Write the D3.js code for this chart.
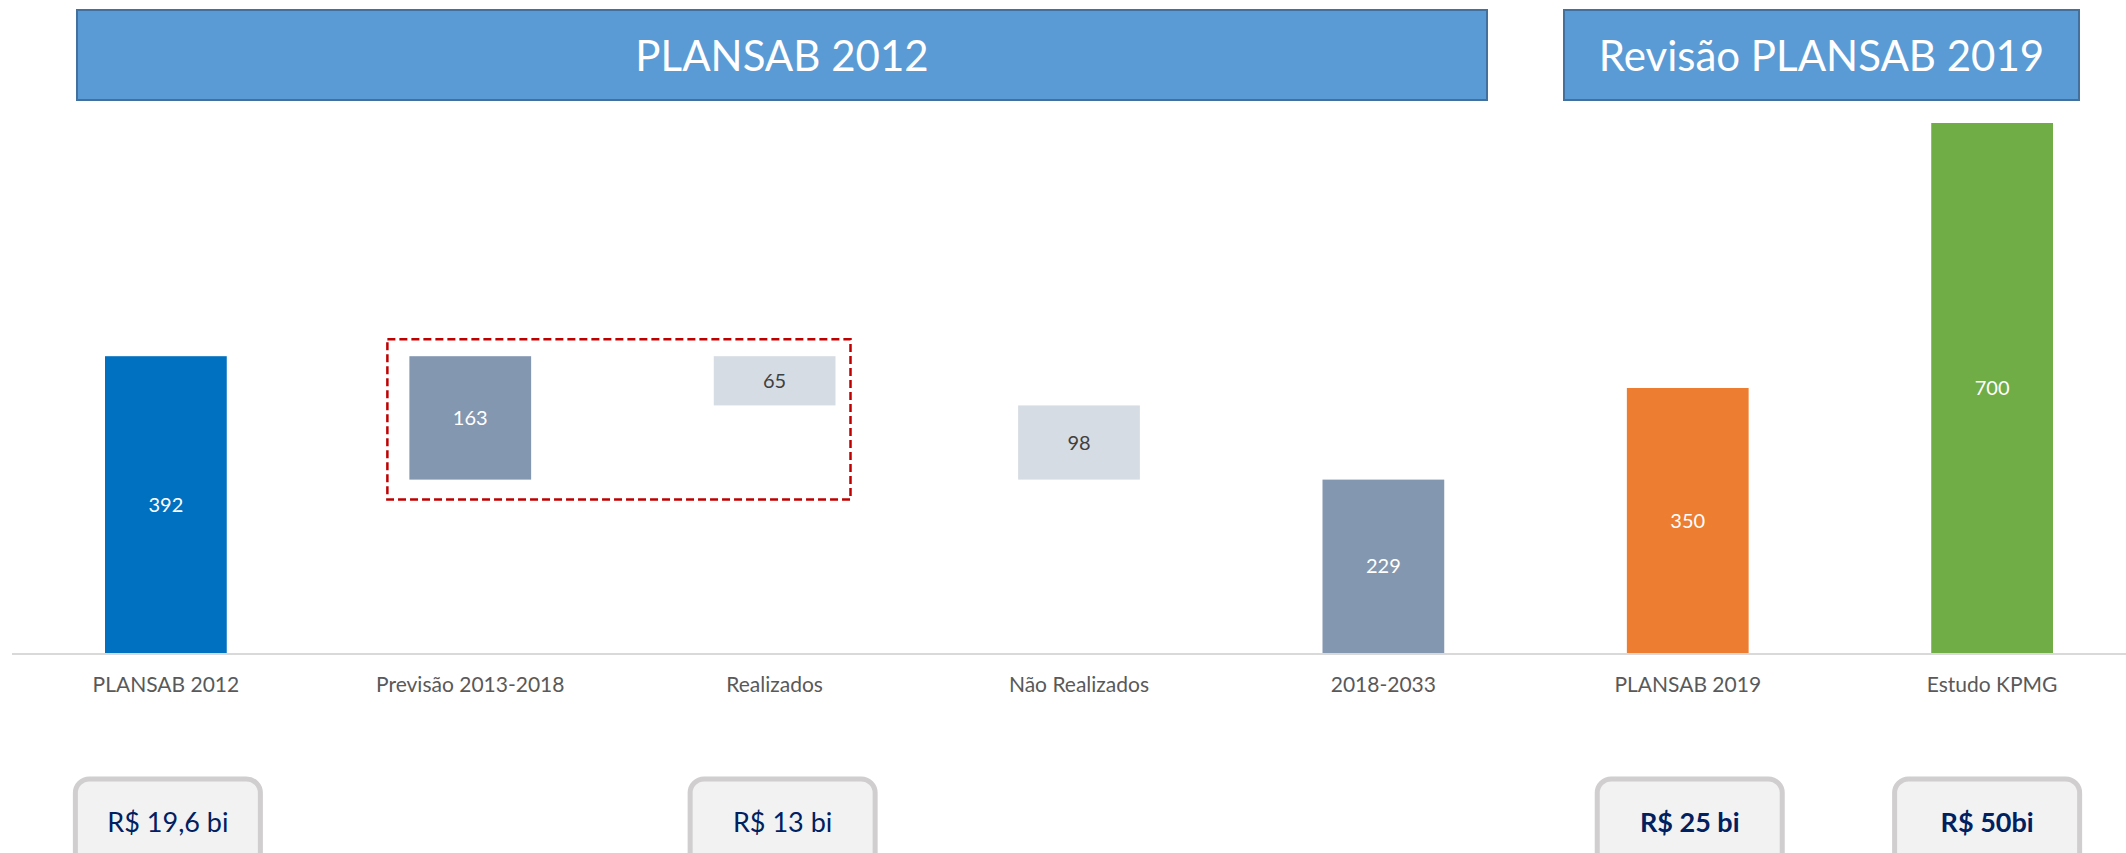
<!DOCTYPE html>
<html>
<head>
<meta charset="utf-8">
<script src="https://cdn.jsdelivr.net/npm/d3@7"></script>
<style>
  html, body { margin: 0; padding: 0; background: #fff; }
  svg { display: block; font-family: Lato, "Open Sans", sans-serif; }
</style>
</head>
<body>
<svg id="chart"></svg>
<script>
const W = 2126;
const H = 853;

// ── Data ──────────────────────────────────────────────────────────────────────

const CATEGORIES = [
  'PLANSAB 2012', 'Previsão 2013-2018', 'Realizados', 'Não Realizados',
  '2018-2033', 'PLANSAB 2019', 'Estudo KPMG',
];
const BASES  = [0, 229, 327, 229, 0, 0, 0];
const VALUES = [392, 163, 65, 98, 229, 350, 700];

const GROUPS = [
  { title: 'PLANSAB 2012' },
  { title: 'Revisão PLANSAB 2019' },
];

const BOX_CATEGORIES = ['PLANSAB 2012', 'Realizados', 'PLANSAB 2019', 'Estudo KPMG'];
const BOX_LABELS     = ['R$ 19,6 bi', 'R$ 13 bi', 'R$ 25 bi', 'R$ 50bi'];

// ── Colors ────────────────────────────────────────────────────────────────────

const BAR_COLORS   = ['#0070c0', '#8497b0', '#d6dce4', '#d6dce4', '#8497b0', '#ed7d31', '#70ad47'];
const LABEL_COLORS = ['#fff', '#fff', '#404040', '#404040', '#fff', '#fff', '#fff'];
const BOX_BOLD     = [false, false, true, true];
const BOX_SHIFT    = [2, 8, 2, -5];   // boxes are not exactly centred under the bars

// ── Scales ────────────────────────────────────────────────────────────────────

const svg = d3.select('#chart').attr('width', W).attr('height', H);

const x = d3.scaleBand()
  .domain(CATEGORIES)
  .range([0, 2158])
  .paddingInner(0.6)
  .paddingOuter(0.345);

const y = d3.scaleLinear().domain([0, 700]).range([653, 123]);

const bars = CATEGORIES.map((c, i) => ({ cat: c, base: BASES[i], value: VALUES[i], i }));

// ── Group banners ─────────────────────────────────────────────────────────────

const banners = [
  { x0: 77,   x1: 1487 },
  { x0: 1564, x1: 2079 },
];

const bannerG = svg.append('g');
banners.forEach((b, i) => {
  bannerG.append('rect')
    .attr('x', b.x0).attr('y', 10)
    .attr('width', b.x1 - b.x0).attr('height', 90)
    .attr('fill', '#5b9bd5')
    .attr('stroke', '#41719c')
    .attr('stroke-width', 2);
  bannerG.append('text')
    .attr('x', (b.x0 + b.x1) / 2).attr('y', 71)
    .attr('text-anchor', 'middle')
    .attr('fill', '#fff')
    .attr('font-size', 42)
    .text(GROUPS[i].title);
});

// ── Axis line ─────────────────────────────────────────────────────────────────

svg.append('line')
  .attr('x1', 12).attr('x2', W)
  .attr('y1', y(0) + 1).attr('y2', y(0) + 1)
  .attr('stroke', '#d9d9d9')
  .attr('stroke-width', 2);

// ── Bars ──────────────────────────────────────────────────────────────────────

svg.append('g').selectAll('rect')
  .data(bars)
  .join('rect')
  .attr('x', d => x(d.cat))
  .attr('width', x.bandwidth())
  .attr('y', d => y(d.base + d.value))
  .attr('height', d => y(d.base) - y(d.base + d.value))
  .attr('fill', d => BAR_COLORS[d.i]);

svg.append('g').selectAll('text')
  .data(bars)
  .join('text')
  .attr('x', d => x(d.cat) + x.bandwidth() / 2)
  .attr('y', d => y(d.base + d.value / 2))
  .attr('dy', '0.35em')
  .attr('text-anchor', 'middle')
  .attr('font-size', 20)
  .attr('fill', d => LABEL_COLORS[d.i])
  .text(d => d.value);

// category labels
svg.append('g').selectAll('text')
  .data(CATEGORIES)
  .join('text')
  .attr('x', d => x(d) + x.bandwidth() / 2)
  .attr('y', 692)
  .attr('text-anchor', 'middle')
  .attr('font-size', 21)
  .attr('fill', '#595959')
  .text(d => d);

// ── Dashed highlight around Previsão / Realizados ─────────────────────────────

const hx0 = x('Previsão 2013-2018') - 22;
const hx1 = x('Realizados') + x.bandwidth() + 15;
const hy0 = y(BASES[1] + VALUES[1]) - 17;
const hy1 = y(BASES[1]) + 20;

svg.append('rect')
  .attr('x', hx0).attr('y', hy0)
  .attr('width', hx1 - hx0).attr('height', hy1 - hy0)
  .attr('fill', 'none')
  .attr('stroke', '#c00000')
  .attr('stroke-width', 2.5)
  .attr('stroke-dasharray', '8 4');

// ── Cost boxes ────────────────────────────────────────────────────────────────

const boxW = 185;
const boxG = svg.append('g');
BOX_CATEGORIES.forEach((c, i) => {
  const cx = x(c) + x.bandwidth() / 2 + BOX_SHIFT[i];
  boxG.append('rect')
    .attr('x', cx - boxW / 2).attr('y', 779)
    .attr('width', boxW).attr('height', 100)
    .attr('rx', 14)
    .attr('fill', '#f2f2f2')
    .attr('stroke', '#d0cece')
    .attr('stroke-width', 5);
  boxG.append('text')
    .attr('x', cx).attr('y', 823)
    .attr('dy', '0.35em')
    .attr('text-anchor', 'middle')
    .attr('font-size', 27)
    .attr('font-weight', BOX_BOLD[i] ? 700 : 400)
    .attr('fill', '#002060')
    .text(BOX_LABELS[i]);
});
</script>
</body>
</html>
